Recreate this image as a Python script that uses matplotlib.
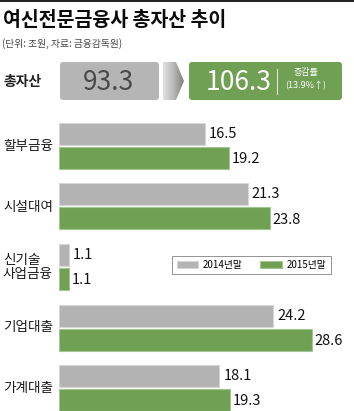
import matplotlib
matplotlib.use('Agg')
import matplotlib.pyplot as plt
import numpy as np
from matplotlib.patches import FancyBboxPatch, Polygon, Rectangle

plt.rcParams['font.family'] = ['Noto Sans CJK KR', 'DejaVu Sans']

# data
categories = ['할부금융', '시설대여', '신기술\n사업금융', '기업대출', '가계대출']
vals_2014 = [16.5, 21.3, 1.1, 24.2, 18.1]
vals_2015 = [19.2, 23.8, 1.1, 28.6, 19.3]
series_names = ['2014년말', '2015년말']
total_2014 = 93.3
total_2015 = 106.3
growth_pct = 13.9

GRAY = '#b3b3b3'
GREEN = '#70a053'
W, H = 354, 411

fig = plt.figure(figsize=(W / 100, H / 100), dpi=100)
fig.patch.set_facecolor('white')

# background axes in pixel coords for header pieces
bg = fig.add_axes([0, 0, 1, 1])
bg.set_xlim(0, W)
bg.set_ylim(H, 0)
bg.axis('off')

bg.add_patch(Rectangle((0, 0), W, 2, color='#222222', lw=0))
bg.text(3, 21, '여신전문금융사 총자산 추이', fontsize=14, fontweight='heavy',
        color='#0a0a0a', va='center', ha='left')
bg.text(2, 44, '(단위: 조원, 자료: 금융감독원)', fontsize=7, color='#444444',
        va='center', ha='left')

# total row
bg.text(3, 82, '총자산', fontsize=10, fontweight='bold', color='#222222',
        va='center', ha='left')
bg.add_patch(FancyBboxPatch((60, 62), 99, 38, boxstyle='round,pad=0,rounding_size=3',
                            fc='#b5b5b5', ec='none'))
bg.text(109, 82, f'{total_2014}', fontsize=19, fontweight='light', color='#4a4a4a',
        va='center', ha='center')

# gradient arrow
arrow = Polygon([(163, 62), (176, 62), (184, 81), (176, 100), (163, 100)],
                closed=True, fc='none', ec='none')
bg.add_patch(arrow)
grad = np.linspace(0, 1, 64).reshape(1, -1)
im = bg.imshow(grad, extent=(163, 184, 100, 62), cmap=plt.cm.Greys,
               vmin=-0.6, vmax=2.2, aspect='auto', zorder=2)
im.set_clip_path(arrow)

bg.add_patch(FancyBboxPatch((189, 62), 153, 38, boxstyle='round,pad=0,rounding_size=3',
                            fc=GREEN, ec='none'))
bg.text(239, 82, f'{total_2015}', fontsize=19, fontweight='light', color='white',
        va='center', ha='center')
bg.plot([277, 277], [69, 94], color='#d8e6cf', lw=0.8)
bg.text(306, 72, '증감률', fontsize=6.5, color='white', va='center', ha='center')
bg.text(306, 86, f'({growth_pct}%↑)', fontsize=6.5, color='white',
        va='center', ha='center')

# bar axes
px_per_unit = 8.85
ax = fig.add_axes([59 / W, 0, (W - 59) / W, 301 / H])
ax.set_xlim(0, (W - 59) / px_per_unit)
ax.set_ylim((411 - 146) / 60.5, (110 - 146) / 60.5)
ax.axis('off')

y = np.arange(len(categories))
bh = 22 / 60.5
off = 12 / 60.5
b1 = ax.barh(y - off, vals_2014, height=bh, color=GRAY, edgecolor='#d6d6d6',
             lw=0.8, label=series_names[0])
b2 = ax.barh(y + off, vals_2015, height=bh, color=GREEN, edgecolor='#a3c690',
             lw=0.8, label=series_names[1])

for yy, v in zip(y - off, vals_2014):
    ax.annotate(f'{v}', (v, yy), xytext=(3, 0), textcoords='offset points',
                va='center', ha='left', fontsize=10.5, color='#111111')
for yy, v in zip(y + off, vals_2015):
    ax.annotate(f'{v}', (v, yy), xytext=(2, -1), textcoords='offset points',
                va='center', ha='left', fontsize=10.5, color='#111111')

for yy, name in zip(y, categories):
    fig.text(3 / W, 1 - (146 + 60.5 * yy) / H, name, fontsize=9.8, color='#1a1a1a',
             va='center', ha='left', linespacing=1.0)

leg = ax.legend(handles=[b1, b2], loc='center', bbox_to_anchor=(251.5 / W, 1 - 265 / H),
                bbox_transform=fig.transFigure, ncol=2, fontsize=7, frameon=True,
                fancybox=False, edgecolor='#777777', handlelength=2.2, handleheight=0.6,
                columnspacing=1.8, handletextpad=0.5, borderpad=0.45)
leg.get_frame().set_linewidth(0.7)

fig.savefig('out.png', dpi=100, facecolor='white')
